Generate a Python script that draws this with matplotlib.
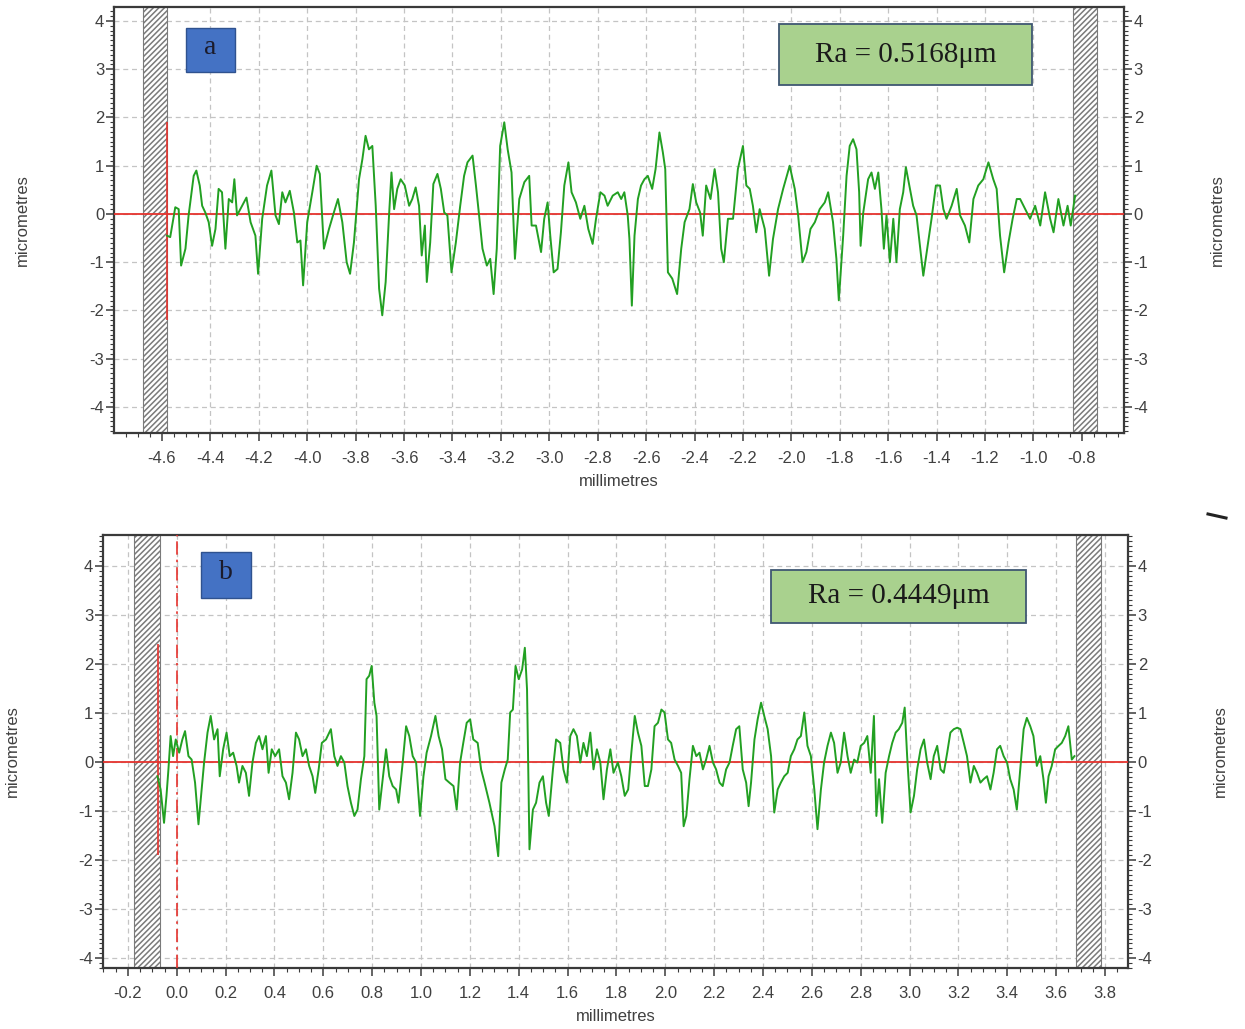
import matplotlib

matplotlib.use("Agg")
import matplotlib.pyplot as plt
from matplotlib.patches import Rectangle
from matplotlib.lines import Line2D
from matplotlib.ticker import MultipleLocator, FixedLocator
import numpy as np

# ---- profile a (millimetres, micrometres) ----
xa = [-4.579, -4.566, -4.545, -4.531, -4.521, -4.503, -4.490, -4.469, -4.458, -4.444,
      -4.434, -4.421, -4.407, -4.393, -4.379, -4.366, -4.352, -4.338, -4.324, -4.310,
      -4.301, -4.290, -4.269, -4.251, -4.234, -4.214, -4.203, -4.186, -4.166, -4.148,
      -4.131, -4.117, -4.103, -4.090, -4.072, -4.055, -4.041, -4.028, -4.017, -4.000,
      -3.979, -3.961, -3.948, -3.931, -3.910, -3.890, -3.873, -3.855, -3.837, -3.823,
      -3.807, -3.786, -3.772, -3.759, -3.745, -3.731, -3.717, -3.703, -3.690, -3.676,
      -3.662, -3.652, -3.641, -3.628, -3.614, -3.597, -3.579, -3.566, -3.552, -3.538,
      -3.527, -3.514, -3.506, -3.492, -3.479, -3.462, -3.448, -3.434, -3.421, -3.404,
      -3.386, -3.368, -3.352, -3.338, -3.317, -3.303, -3.290, -3.276, -3.258, -3.244,
      -3.230, -3.217, -3.203, -3.186, -3.172, -3.156, -3.142, -3.124, -3.103, -3.083,
      -3.073, -3.055, -3.034, -3.021, -3.007, -2.996, -2.982, -2.966, -2.952, -2.938,
      -2.921, -2.908, -2.890, -2.872, -2.855, -2.839, -2.821, -2.807, -2.789, -2.772,
      -2.759, -2.738, -2.717, -2.703,
      -2.690, -2.676, -2.669, -2.659, -2.648, -2.634, -2.621, -2.607, -2.593, -2.575,
      -2.561, -2.545, -2.531, -2.521, -2.510, -2.492, -2.472, -2.455, -2.441, -2.421,
      -2.407, -2.393, -2.377, -2.366, -2.352, -2.334, -2.317, -2.303, -2.290, -2.279,
      -2.262, -2.241, -2.221, -2.200, -2.186, -2.172, -2.159, -2.145, -2.131, -2.110,
      -2.092, -2.076, -2.055, -2.034, -2.007, -1.986, -1.972, -1.954, -1.938, -1.921,
      -1.903, -1.883, -1.862, -1.848, -1.828, -1.814, -1.804, -1.786, -1.772, -1.759,
      -1.745, -1.731, -1.720, -1.714, -1.703, -1.683, -1.669, -1.655, -1.641, -1.628,
      -1.618, -1.607, -1.593, -1.579, -1.566, -1.552, -1.538, -1.527, -1.510, -1.497,
      -1.483, -1.469, -1.455, -1.441, -1.421, -1.403, -1.386, -1.372, -1.359, -1.338,
      -1.317, -1.303, -1.283, -1.265, -1.248, -1.228, -1.207, -1.186, -1.166, -1.152,
      -1.138, -1.121, -1.103, -1.086, -1.069, -1.055, -1.034, -1.014, -0.993, -0.972,
      -0.952, -0.931, -0.917, -0.897, -0.876, -0.859, -0.846, -0.828]
ya = [-0.45, -0.48, 0.14, 0.10, -1.07, -0.72, -0.03, 0.79, 0.90, 0.59,
      0.17, 0.03, -0.17, -0.66, -0.31, 0.52, 0.45, -0.72, 0.31, 0.24,
      0.72, -0.03, 0.17, 0.34, -0.17, -0.45, -1.24, -0.10, 0.59, 0.90,
      -0.03, -0.21, 0.45, 0.24, 0.48, 0.03, -0.59, -0.55, -1.48, -0.17,
      0.45, 1.00, 0.83, -0.72, -0.31, 0.03, 0.31, -0.17, -1.00, -1.24,
      -0.59, 0.72, 1.14, 1.62, 1.34, 1.41, 0.17, -1.55, -2.10, -1.41,
      -0.03, 0.86, 0.10, 0.52, 0.72, 0.59, 0.17, 0.31, 0.55, 0.17,
      -0.86, -0.24, -1.41, -0.59, 0.62, 0.83, 0.52, 0.03, -0.03, -1.21,
      -0.59, 0.17, 0.79, 1.07, 1.21, 0.59, -0.03, -0.72, -1.07, -0.93,
      -1.66, -0.72, 1.41, 1.90, 1.34, 0.86, -0.93, 0.31, 0.66, 0.79,
      -0.24, -0.24, -0.79, -0.10, 0.24, -0.45, -1.21, -1.14, -0.38, 0.59,
      1.07, 0.45, 0.24, -0.10, 0.17, -0.31, -0.62, -0.10, 0.45, 0.38,
      0.17, 0.38, 0.45, 0.31,
      0.45, -0.03, -0.52, -1.90, -0.45, 0.31, 0.59, 0.72, 0.79, 0.52,
      0.93, 1.69, 1.28, 0.93, -1.21, -1.34, -1.66, -0.72, -0.17, 0.10,
      0.62, 0.24, 0.03, -0.45, 0.59, 0.31, 0.93, 0.45, -0.72, -1.00,
      -0.10, -0.10, 0.93, 1.41, 0.59, 0.52, 0.17, -0.38, 0.10, -0.31,
      -1.28, -0.52, 0.10, 0.52, 1.00, 0.52, -0.03, -1.00, -0.79, -0.31,
      -0.17, 0.10, 0.24, 0.45, -0.17, -0.93, -1.79, -0.45, 0.79, 1.41,
      1.55, 1.34, 0.45, -0.66, 0.03, 0.72, 0.86, 0.52, 0.86, 0.10,
      -0.72, -0.03, -1.00, -0.10, -1.00, 0.10, 0.45, 0.97, 0.52, 0.17,
      -0.03, -0.66, -1.28, -0.79, -0.10, 0.59, 0.59, 0.10, -0.10, 0.17,
      0.52, -0.03, -0.24, -0.59, 0.31, 0.59, 0.72, 1.07, 0.72, 0.52,
      -0.45, -1.21, -0.59, -0.10, 0.31, 0.31, 0.10, -0.10, 0.17, -0.24,
      0.45, -0.10, -0.38, 0.31, -0.24, 0.17, -0.24, 0.38]

# ---- profile b ----
xb = [-0.079, -0.066, -0.052, -0.042, -0.034, -0.025, -0.015, -0.004, 0.010, 0.023,
      0.034, 0.048, 0.061, 0.075, 0.089, 0.102, 0.112, 0.126, 0.139, 0.153,
      0.167, 0.176, 0.190, 0.204, 0.217, 0.231, 0.245, 0.255, 0.269, 0.283,
      0.296, 0.310, 0.324, 0.337, 0.351, 0.365, 0.376, 0.389, 0.403, 0.419,
      0.433, 0.447, 0.460, 0.474, 0.488, 0.501, 0.515, 0.529, 0.542, 0.556,
      0.567, 0.581, 0.594, 0.611, 0.631, 0.645, 0.658, 0.672, 0.686, 0.699,
      0.713, 0.727, 0.740, 0.754, 0.768, 0.777, 0.788, 0.798, 0.809, 0.818,
      0.829, 0.843, 0.857, 0.870, 0.884, 0.898, 0.908, 0.925, 0.939, 0.952,
      0.966, 0.980, 0.996, 1.010, 1.023, 1.041, 1.059, 1.072, 1.086, 1.100,
      1.116, 1.133, 1.146, 1.160, 1.173, 1.187, 1.201, 1.214, 1.232, 1.246,
      1.260, 1.280, 1.301, 1.316, 1.329, 1.343, 1.355, 1.365, 1.376, 1.387,
      1.400, 1.414, 1.425, 1.434, 1.444, 1.458, 1.471, 1.485, 1.499, 1.512,
      1.523, 1.540, 1.553, 1.570, 1.583, 1.597, 1.611, 1.624, 1.638, 1.652,
      1.665, 1.679, 1.693, 1.706, 1.720, 1.734, 1.747, 1.761, 1.775, 1.788,
      1.806,
      1.820, 1.834, 1.848, 1.861, 1.875, 1.888, 1.902, 1.916, 1.929, 1.943,
      1.956, 1.970, 1.984, 1.997, 2.011, 2.024, 2.038, 2.052, 2.065, 2.075,
      2.086, 2.099, 2.113, 2.127, 2.140, 2.154, 2.167, 2.181, 2.195, 2.208,
      2.222, 2.235, 2.249, 2.263, 2.276, 2.290, 2.303, 2.317, 2.331, 2.341,
      2.351, 2.365, 2.378, 2.392, 2.405, 2.419, 2.433, 2.446, 2.460, 2.473,
      2.487, 2.501, 2.514, 2.528, 2.541, 2.555, 2.569, 2.582, 2.596, 2.610,
      2.623, 2.637, 2.650, 2.664, 2.678, 2.691, 2.705, 2.718, 2.732, 2.746,
      2.759, 2.773, 2.786, 2.800, 2.814, 2.827, 2.841, 2.854, 2.864, 2.875,
      2.888, 2.902, 2.916, 2.929, 2.943, 2.956, 2.970, 2.980, 2.990, 3.004,
      3.018, 3.031, 3.045, 3.059, 3.072, 3.086, 3.099, 3.113, 3.127, 3.140,
      3.154, 3.167, 3.181, 3.195, 3.208, 3.222, 3.235, 3.249, 3.263, 3.276,
      3.290, 3.303, 3.317, 3.331, 3.344, 3.358, 3.371, 3.385, 3.399, 3.412,
      3.426, 3.439, 3.453, 3.467, 3.480, 3.494, 3.507, 3.521, 3.535, 3.548,
      3.558, 3.569, 3.582, 3.596, 3.610, 3.623, 3.637, 3.650, 3.664, 3.675]
yb = [-0.29, -0.56, -1.24, -0.69, -0.15, 0.53, 0.12, 0.46, 0.19, 0.46,
      0.63, 0.12, 0.05, -0.42, -1.27, -0.56, -0.01, 0.60, 0.94, 0.46,
      0.67, -0.29, 0.26, 0.60, 0.12, 0.19, -0.08, -0.42, -0.08, -0.22,
      -0.69, -0.01, 0.39, 0.53, 0.26, 0.53, -0.22, 0.26, 0.12, 0.26,
      -0.29, -0.42, -0.76, -0.22, 0.60, 0.46, 0.12, 0.26, -0.08, -0.29,
      -0.63, -0.15, 0.39, 0.46, 0.67, 0.12, -0.08, 0.12, -0.01, -0.49,
      -0.83, -1.10, -0.97, -0.35, 0.12, 1.69, 1.76, 1.96, 1.21, 0.94,
      -0.97, -0.35, 0.26, -0.29, -0.49, -0.56, -0.83, -0.01, 0.73, 0.53,
      0.12, -0.01, -1.10, -0.29, 0.19, 0.53, 0.94, 0.53, 0.26, -0.35,
      -0.42, -0.49, -0.97, -0.01, 0.39, 0.80, 0.87, 0.46, 0.39, -0.15,
      -0.42, -0.83, -1.31, -1.92, -0.42, -0.15, 0.05, 1.01, 1.07, 1.96,
      1.69, 1.89, 2.33, 1.48, -1.78, -0.97, -0.83, -0.42, -0.29, -0.83,
      -1.10, -0.15, 0.46, 0.39, -0.15, -0.42, 0.53, 0.67, 0.53, -0.01,
      0.39, 0.12, 0.60, -0.15, 0.26, -0.01, -0.76, -0.15, 0.26, -0.22,
      -0.01,
      -0.29, -0.69, -0.56, 0.19, 0.94, 0.60, 0.33, -0.49, -0.49, -0.15,
      0.73, 0.80, 1.07, 1.01, 0.46, 0.39, 0.05, -0.08, -0.22, -1.31,
      -1.10, -0.35, 0.33, 0.12, 0.19, -0.15, 0.05, 0.33, -0.01, -0.15,
      -0.42, -0.49, -0.15, -0.01, 0.33, 0.67, 0.73, -0.15, -0.42, -0.90,
      -0.42, 0.46, 0.87, 1.21, 0.94, 0.67, 0.12, -1.03, -0.56, -0.42,
      -0.29, -0.22, 0.12, 0.26, 0.46, 0.53, 1.01, 0.33, 0.12, -0.56,
      -1.37, -0.56, -0.01, 0.33, 0.60, 0.39, -0.22, -0.01, 0.60, 0.12,
      -0.22, 0.05, -0.01, 0.33, 0.39, 0.53, -0.22, 0.94, -1.10, -0.35,
      -1.24, -0.22, 0.12, 0.39, 0.60, 0.67, 0.80, 1.11, 0.12, -1.03,
      -0.69, -0.15, 0.26, 0.46, -0.01, -0.35, 0.12, 0.33, -0.15, -0.22,
      0.19, 0.60, 0.67, 0.70, 0.67, 0.39, 0.12, -0.42, -0.08, -0.22,
      -0.42, -0.35, -0.29, -0.56, -0.22, 0.26, 0.33, 0.12, -0.01, -0.35,
      -0.56, -0.97, -0.15, 0.67, 0.90, 0.73, 0.53, -0.08, 0.12, -0.35,
      -0.83, -0.29, -0.08, 0.26, 0.33, 0.39, 0.53, 0.73, 0.05, 0.12]

labels = ["a", "b"]
ra_text = ["Ra = 0.5168\u03bcm", "Ra = 0.4449\u03bcm"]

GREEN = "#22a022"
RED = "#e5322d"
GRID = "#c4c4c4"
AXC = "#3a3a3a"

plt.rcParams["font.family"] = ["Liberation Sans", "DejaVu Sans"]
plt.rcParams["axes.unicode_minus"] = False
plt.rcParams["hatch.linewidth"] = 1.1
plt.rcParams["hatch.color"] = "#7a7a7a"

fig = plt.figure(figsize=(12.45, 10.29), dpi=100, facecolor="white")


def setup_axes(ax, xlim, ylim, xticks):
    ax.set_xlim(xlim)
    ax.set_ylim(ylim)
    ax.xaxis.set_major_locator(FixedLocator(xticks))
    ax.xaxis.set_minor_locator(MultipleLocator(0.05))
    ax.yaxis.set_major_locator(FixedLocator([-4, -3, -2, -1, 0, 1, 2, 3, 4]))
    ax.yaxis.set_minor_locator(MultipleLocator(0.1))
    ax.set_xticklabels(["%.1f" % t for t in xticks])
    ax.tick_params(axis="both", which="both", direction="out", colors=AXC,
                   labelsize=12, labelcolor="#404040")
    ax.tick_params(axis="y", which="both", left=True, right=True,
                   labelleft=True, labelright=True, pad=1)
    ax.tick_params(axis="x", which="major", pad=7)
    ax.tick_params(axis="both", which="major", length=6, width=1.1)
    ax.tick_params(axis="both", which="minor", length=3, width=0.8)
    ax.grid(True, which="major", color=GRID, linestyle=(0, (4, 3)), lw=0.9)
    for s in ax.spines.values():
        s.set_color(AXC)
        s.set_linewidth(1.6)
    ax.set_xlabel("millimetres", fontsize=12, color="#404040", labelpad=6)


def hatch_band(ax, x0, x1):
    ax.axvspan(x0, x1, facecolor="white", edgecolor="#7a7a7a",
               hatch="//////", lw=0.8, zorder=2)


def add_boxes(ax, lab, ra, lab_box, ra_box):
    x0, y0, x1, y1 = lab_box
    ax.add_patch(Rectangle((x0, y0), x1 - x0, y1 - y0, transform=ax.transAxes,
                           facecolor="#4472c4", edgecolor="#2f528f", lw=1.0, zorder=6))
    ax.text((x0 + x1) / 2, (y0 + y1) / 2 + 0.005, lab, transform=ax.transAxes,
            ha="center", va="center", fontsize=20, family="Liberation Serif",
            color="#1b1b2b", zorder=7)
    x0, y0, x1, y1 = ra_box
    ax.add_patch(Rectangle((x0, y0), x1 - x0, y1 - y0, transform=ax.transAxes,
                           facecolor="#a9d18e", edgecolor="#3f5772", lw=1.3, zorder=6))
    ax.text((x0 + x1) / 2, (y0 + y1) / 2, ra, transform=ax.transAxes,
            ha="center", va="center", fontsize=21, family="Liberation Serif",
            color="#1a1a1a", zorder=7)


def side_labels(ax, xl, xr):
    for xp in (xl, xr):
        ax.text(xp, 0.5, "micrometres", transform=ax.transAxes, rotation=90,
                ha="center", va="center", fontsize=12, color="#404040")


# ---------------- panel a ----------------
ax1 = fig.add_axes([0.0916, 0.5792, 0.8112, 0.4140])
setup_axes(ax1, (-4.798, -0.626), (-4.54, 4.29),
           [-4.6, -4.4, -4.2, -4.0, -3.8, -3.6, -3.4, -3.2, -3.0, -2.8, -2.6,
            -2.4, -2.2, -2.0, -1.8, -1.6, -1.4, -1.2, -1.0, -0.8])
hatch_band(ax1, -4.679, -4.579)
hatch_band(ax1, -0.837, -0.738)
ax1.axhline(0, color=RED, lw=1.3, zorder=3)
ax1.vlines(-4.579, -2.2, 1.9, color=RED, lw=1.2, zorder=3)
ax1.plot(xa, ya, color=GREEN, lw=1.4, zorder=4)
add_boxes(ax1, labels[0], ra_text[0],
          (0.0713, 0.8474, 0.1198, 0.9507), (0.6584, 0.8169, 0.9089, 0.9600))
side_labels(ax1, -0.091, 1.093)

# ---------------- panel b ----------------
ax2 = fig.add_axes([0.0827, 0.0593, 0.8233, 0.4208])
setup_axes(ax2, (-0.302, 3.894), (-4.2, 4.63),
           [-0.2, 0.0, 0.2, 0.4, 0.6, 0.8, 1.0, 1.2, 1.4, 1.6, 1.8, 2.0,
            2.2, 2.4, 2.6, 2.8, 3.0, 3.2, 3.4, 3.6, 3.8])
hatch_band(ax2, -0.175, -0.069)
hatch_band(ax2, 3.681, 3.783)
ax2.axhline(0, color=RED, lw=1.3, zorder=3)
ax2.axvline(0.0, color=RED, lw=1.2, linestyle=(0, (8, 3, 1.5, 3)), zorder=3)
ax2.vlines(-0.075, -1.9, 2.4, color=RED, lw=1.2, zorder=3)
ax2.plot(xb, yb, color=GREEN, lw=1.4, zorder=4)
add_boxes(ax2, labels[1], ra_text[1],
          (0.0956, 0.8545, 0.1444, 0.9607), (0.6517, 0.7968, 0.9005, 0.9192))
side_labels(ax2, -0.0888, 1.09)

# small stray mark to the right between the panels
fig.add_artist(Line2D([1208 / 1245, 1226 / 1245], [1 - 514 / 1029, 1 - 518 / 1029],
                      transform=fig.transFigure, color="#222222", lw=2.2))

fig.savefig("out.png", dpi=100, facecolor="white")
